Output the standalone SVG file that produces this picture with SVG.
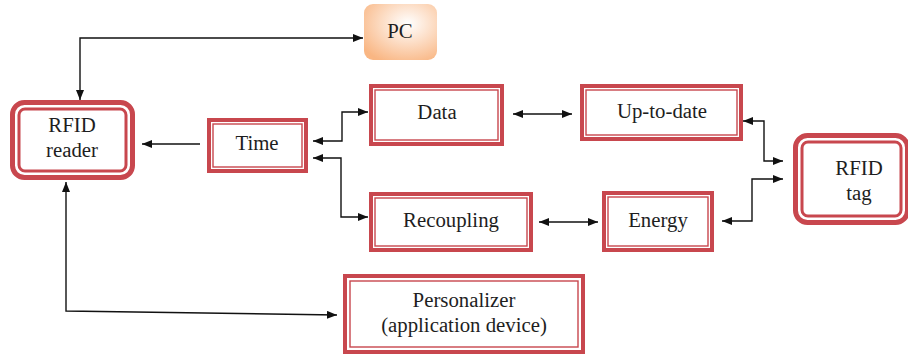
<svg xmlns="http://www.w3.org/2000/svg" width="908" height="358" viewBox="0 0 908 358">
<style>
.t{font-family:'Liberation Serif','DejaVu Serif',serif;font-size:20.8px;fill:#1e1e1e;text-anchor:middle}
.o{fill:#fff;stroke:#c8474e;stroke-width:4}
.i{fill:none;stroke:#c8474e;stroke-width:1.4}
.ro{fill:#fff;stroke:#c8474e;stroke-width:5}
.ri{fill:none;stroke:#c8474e;stroke-width:3}
.c{fill:none;stroke:#111;stroke-width:1.4}
</style>
<defs>
<marker id="a" viewBox="0 0 10 8" refX="10" refY="4" markerWidth="10" markerHeight="8" markerUnits="userSpaceOnUse" orient="auto-start-reverse">
<path d="M0,0 L10,4 L0,8 Z" fill="#111"/>
</marker>
<radialGradient id="pcg" cx="0.6" cy="0.35" r="0.75">
<stop offset="0" stop-color="#ffffff"/>
<stop offset="1" stop-color="#f9b683"/>
</radialGradient>
</defs>
<g id="connectors">
<path class="c" d="M80,100 L80,38 L363,38" marker-start="url(#a)" marker-end="url(#a)"/>
<path class="c" d="M200,144 L142,144" marker-end="url(#a)"/>
<path class="c" d="M313,141 L342,141 L342,112 L368,112" marker-start="url(#a)" marker-end="url(#a)"/>
<path class="c" d="M313,158 L341,158 L341,217 L368,217" marker-start="url(#a)" marker-end="url(#a)"/>
<path class="c" d="M513,114 L572,114" marker-start="url(#a)" marker-end="url(#a)"/>
<path class="c" d="M743,121 L764,121 L764,161 L783,161" marker-start="url(#a)" marker-end="url(#a)"/>
<path class="c" d="M722,221 L752,221 L752,179 L783,179" marker-start="url(#a)" marker-end="url(#a)"/>
<path class="c" d="M539,222 L598,222" marker-start="url(#a)" marker-end="url(#a)"/>
<path class="c" d="M66,182 L66,311 L337,315" marker-start="url(#a)" marker-end="url(#a)"/>
</g>
<g id="pc">
<rect x="364" y="4" width="73" height="56" rx="9" fill="url(#pcg)"/>
<text class="t" x="400" y="38">PC</text>
</g>
<g id="rfid-reader">
<rect class="ro" x="12.5" y="102.5" width="120" height="75" rx="12"/>
<rect class="ri" x="19" y="109" width="107" height="62" rx="6"/>
<text class="t" x="72" y="132">RFID</text>
<text class="t" x="72" y="157">reader</text>
</g>
<g id="time">
<rect class="o" x="209" y="120" width="97" height="51"/>
<rect class="i" x="213" y="124" width="89" height="43"/>
<text class="t" x="257" y="150">Time</text>
</g>
<g id="data">
<rect class="o" x="371" y="86" width="131" height="58"/>
<rect class="i" x="375" y="90" width="123" height="50"/>
<text class="t" x="437" y="119">Data</text>
</g>
<g id="up-to-date">
<rect class="o" x="582" y="86" width="159" height="53"/>
<rect class="i" x="586" y="90" width="151" height="45"/>
<text class="t" x="662" y="118">Up-to-date</text>
</g>
<g id="recoupling">
<rect class="o" x="371" y="194" width="160" height="56"/>
<rect class="i" x="375" y="198" width="152" height="48"/>
<text class="t" x="451" y="227">Recoupling</text>
</g>
<g id="energy">
<rect class="o" x="604" y="193" width="108" height="57"/>
<rect class="i" x="608" y="197" width="100" height="49"/>
<text class="t" x="658" y="227">Energy</text>
</g>
<g id="rfid-tag">
<rect class="ro" x="795.5" y="135.5" width="112" height="87" rx="12"/>
<rect class="ri" x="802" y="142" width="99" height="74" rx="6"/>
<text class="t" x="859" y="175">RFID</text>
<text class="t" x="859" y="200">tag</text>
</g>
<g id="personalizer">
<rect class="o" x="345" y="276" width="238" height="76"/>
<rect class="i" x="350" y="281" width="228" height="66"/>
<text class="t" x="464" y="307">Personalizer</text>
<text class="t" x="464" y="332">(application device)</text>
</g>
</svg>
